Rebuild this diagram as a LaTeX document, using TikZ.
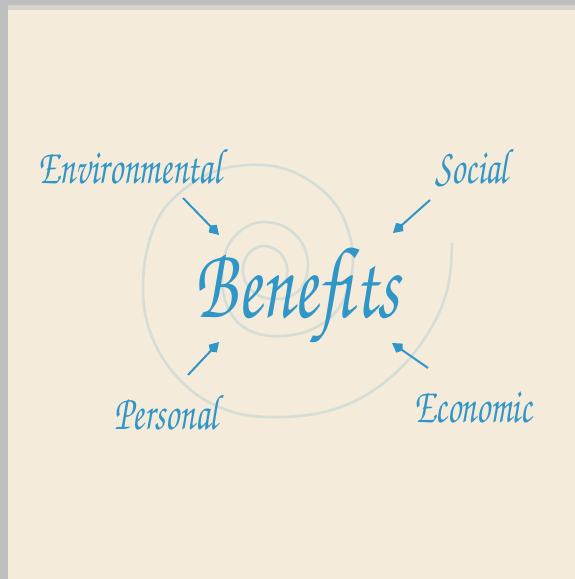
\documentclass[tikz,border=0pt]{standalone}
\usepackage[T1]{fontenc}
\usetikzlibrary{arrows.meta}
\definecolor{cream}{RGB}{245,235,218}
\definecolor{framegray}{RGB}{190,190,190}
\definecolor{bandgray}{RGB}{213,211,205}
\definecolor{benblue}{RGB}{48,150,200}
\definecolor{spiralgray}{RGB}{212,221,214}
\newcommand{\scriptface}[1]{\fontencoding{T1}\fontfamily{pzc}\fontsize{#1}{#1}\selectfont}

\begin{document}
\begin{tikzpicture}[x=1pt, y=-1pt,
    every node/.style = {text=benblue, inner sep=0pt, anchor=base},
    side/.style = {font=\scriptface{50}},
    centre/.style = {font=\scriptface{102}},
    spiral/.style = {draw=spiralgray, line width=2.6pt},
    pointer/.style = {draw=benblue, line width=2pt, -{Kite[length=13pt,width=11pt,inset=4pt]}}]
    \useasboundingbox (0,0) rectangle (575,579);
    \fill[framegray] (0,0) rectangle (575,579);
    \fill[bandgray] (8,5) rectangle (575,10);
    \fill[cream] (8,10) rectangle (575,579);
    % spiral, from the outer end inwards
    \draw[spiral] plot[smooth, tension=0.6] coordinates {
        (452,243) (450,275) (443,303) (430,330) (410,358) (385,382)
        (355,401) (320,413) (280,417) (240,414) (205,400) (178,378)
        (158,350) (146,318) (143,285) (147,250) (160,215) (183,190)
        (213,172) (247,165) (282,168) (313,183) (336,205) (349,233)
        (353,262) (347,292) (332,316) (305,332) (270,336) (242,326)
        (226,303) (222,272) (228,246) (243,229) (262,222) (285,227)
        (302,243) (308,265) (302,287) (285,298) (262,297) (247,285)
        (243,267) (250,252) (264,246) (279,252) (287,266) (286,282)};
    \node[centre] (ben) at (297,317) {\scalebox{0.69}[1]{Benefits}};
    \node[side] (env) at (130,183) {\scalebox{0.69}[1]{Environmental}};
    \node[side] (soc) at (472,183) {\scalebox{0.69}[1]{Social}};
    \node[side] (per) at (166,429) {\scalebox{0.69}[1]{Personal}};
    \node[side] (eco) at (473,422) {\scalebox{0.69}[1]{Economic}};
    \coordinate (envtail) at (183,198);
    \coordinate (envtip) at (219,235);
    \coordinate (soctail) at (430,200);
    \coordinate (soctip) at (393,233);
    \coordinate (pertail) at (188,375);
    \coordinate (pertip) at (219,342);
    \coordinate (ecotail) at (428,368);
    \coordinate (ecotip) at (392,343);
    \path
        (envtail) edge[pointer] (envtip)
        (soctail) edge[pointer] (soctip)
        (pertail) edge[pointer] (pertip)
        (ecotail) edge[pointer] (ecotip);
\end{tikzpicture}
\end{document}
